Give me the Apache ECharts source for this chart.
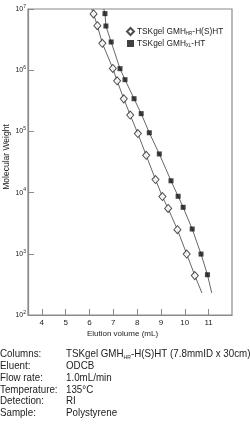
<!DOCTYPE html>
<html><head><meta charset="utf-8">
<script src="https://cdn.jsdelivr.net/npm/echarts@6/dist/echarts.min.js"></script>
<style>html,body{margin:0;padding:0;background:#fff}#c{width:250px;height:428px}</style>
</head><body><div id="c"></div><script>
const FONT = '"Liberation Sans", Arial, sans-serif';
const TEXT = '#222';
const AXIS = '#8a8a8a';

const xTicks = [4, 5, 6, 7, 8, 9, 10, 11];
const yTicks = [1e2, 1e3, 1e4, 1e5, 1e6, 1e7];

// TSKgel GMH_HR-H(S)HT (open diamonds)
const hrElution = [6.17, 6.33, 6.54, 6.98, 7.16, 7.44, 7.71, 8.03, 8.38, 8.77, 9.06, 9.30, 9.69, 10.08, 10.42];
const hrMW = [8.3e6, 5.33e6, 2.75e6, 1.07e6, 6.7e5, 3.4e5, 1.85e5, 9.2e4, 4.06e4, 1.63e4, 8.6e3, 5.5e3, 2.48e3, 990, 440];
// TSKgel GMH_XL-HT (filled squares)
const xlElution = [6.65, 6.69, 6.91, 7.28, 7.49, 7.87, 8.17, 8.51, 8.93, 9.42, 9.72, 9.93, 10.31, 10.68, 10.95];
const xlMW = [8.4e6, 5.27e6, 2.89e6, 1.06e6, 7.0e5, 3.42e5, 1.95e5, 9.5e4, 4.28e4, 1.56e4, 8.7e3, 5.75e3, 2.54e3, 990, 455];

// calibration curve end points (extend beyond the data)
const hrCurveStart = [6.09, 1e7], hrCurveEnd = [10.72, 229];
const xlCurveStart = [6.60, 1e7], xlCurveEnd = [11.13, 229];

const legendNames = ['hr', 'xl'];
const legendLabels = { hr: 'TSKgel GMH{sub|HR}-H(S)HT', xl: 'TSKgel GMH{sub|XL}-HT' };

const infoLabels = ['Columns:', 'Eluent:', 'Flow rate:', 'Temperature:', 'Detection:', 'Sample:'];
const infoValues = ['TSKgel GMH{sub|HR}-H(S)HT (7.8mmID x 30cm)', 'ODCB', '1.0mL/min', '135°C', 'RI', 'Polystyrene'];

const zip = (xs, ys) => xs.map((x, i) => [x, ys[i]]);
const hrPts = zip(hrElution, hrMW);
const xlPts = zip(xlElution, xlMW);

const chart = echarts.init(document.getElementById('c'), null, { renderer: 'canvas' });

const infoGraphics = [];
infoLabels.forEach((lab, i) => {
  const y = 354 + i * 11.8;
  infoGraphics.push({ type: 'text', x: 0, y: y, scaleX: 0.85, style: { text: lab, font: '11.5px ' + FONT, fill: TEXT, verticalAlign: 'middle' } });
  infoGraphics.push({ type: 'text', x: 66, y: y, scaleX: 0.85, style: { text: infoValues[i], font: '11.5px ' + FONT, fill: TEXT, verticalAlign: 'middle',
    rich: { sub: { fontSize: 6, fontFamily: FONT, fill: TEXT, padding: [6, 0, 0, 0] } } } });
});

chart.setOption({
  animation: false,
  textStyle: { fontFamily: FONT, color: TEXT },
  grid: { left: 28, right: 18, top: 9, bottom: 113, show: true, borderColor: AXIS, borderWidth: 1.2, containLabel: false, outerBoundsMode: 'none' },
  legend: {
    data: legendNames, orient: 'vertical', left: 126, top: 27, padding: 0, itemWidth: 7, itemHeight: 7, itemGap: 3,
    textStyle: { fontFamily: FONT, fontSize: 8.3, color: TEXT, padding: [0, 0, 0, -2],
      rich: { sub: { fontFamily: FONT, fontSize: 4.5, color: TEXT, padding: [5, 0, 0, 0] } } },
    formatter: name => legendLabels[name]
  },
  xAxis: {
    type: 'value', min: 3.42, max: 11.98,
    name: 'Elution volume (mL)', nameLocation: 'middle', nameGap: 15, nameMoveOverlap: false,
    nameTextStyle: { fontFamily: FONT, fontSize: 8, color: TEXT, padding: [0, 15, 0, 0] },
    axisLine: { show: true, lineStyle: { color: AXIS, width: 1.2 } },
    axisTick: { show: true, inside: true, length: 6, customValues: xTicks, lineStyle: { color: AXIS } },
    axisLabel: { customValues: xTicks, fontFamily: FONT, fontSize: 8, color: TEXT, margin: 4 },
    splitLine: { show: false }
  },
  yAxis: {
    type: 'log', logBase: 10, min: 1e2, max: 1e7,
    name: 'Molecular Weight', nameLocation: 'middle', nameGap: 17, nameMoveOverlap: false,
    nameTextStyle: { fontFamily: FONT, fontSize: 8.5, color: TEXT, padding: [0, 0, 0, 10] },
    axisLine: { show: true, lineStyle: { color: AXIS, width: 1.2 } },
    axisTick: { show: true, inside: true, length: 6, customValues: yTicks, lineStyle: { color: AXIS } },
    minorTick: { show: false },
    axisLabel: {
      customValues: yTicks, margin: 2, fontFamily: FONT, fontSize: 7, color: TEXT,
      formatter: v => '10{sup|' + Math.round(Math.log10(v)) + '}',
      rich: { sup: { fontFamily: FONT, fontSize: 5, color: TEXT, padding: [0, 0, 5, 0] } }
    },
    splitLine: { show: false }
  },
  series: [
    { name: 'hrCurve', type: 'line', data: [hrCurveStart].concat(hrPts, [hrCurveEnd]), symbol: 'none', silent: true,
      lineStyle: { color: '#555', width: 0.9 }, z: 1 },
    { name: 'xlCurve', type: 'line', data: [xlCurveStart].concat(xlPts, [xlCurveEnd]), symbol: 'none', silent: true,
      lineStyle: { color: '#555', width: 0.9 }, z: 1 },
    { name: 'hr', type: 'scatter', data: hrPts, symbol: 'diamond', symbolSize: [7, 8],
      itemStyle: { color: '#fff', borderColor: '#222', borderWidth: 1 }, z: 3 },
    { name: 'xl', type: 'scatter', data: xlPts, symbol: 'rect', symbolSize: 5,
      itemStyle: { color: '#111' }, z: 3 }
  ],
  graphic: infoGraphics
});
</script></body></html>
